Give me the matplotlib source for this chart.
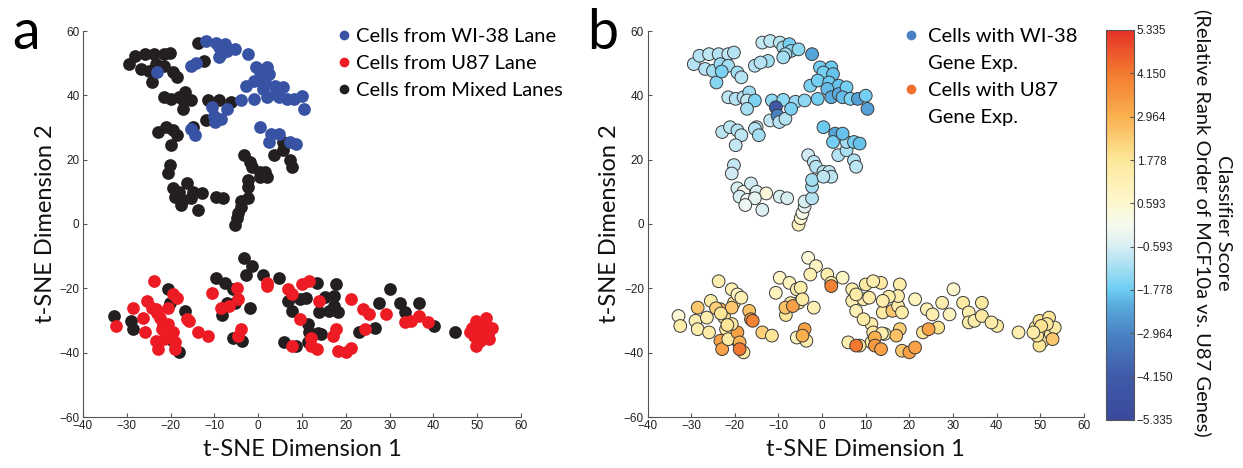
import numpy as np
import matplotlib
matplotlib.use('Agg')
import matplotlib.pyplot as plt
from matplotlib.colors import LinearSegmentedColormap
from matplotlib.lines import Line2D

# t-SNE coordinates, split by lane, with classifier score per cell
wi38_x = [-23.0, -11.9, -9.7, -8.9, -7.5, -7.1, -5.4, -8.4, -8.9, -2.3, -0.5, 2.1, 0.3, 2.5,
          -2.7, -1.0, 1.6, 3.8, 1.2, -1.0, 2.1, 3.8, 5.6, 4.7, 6.5, 8.2, 10.0, 10.4, -4.0,
          -10.6, -10.2, -9.8, -8.4, -7.1, -15.4, -14.5, 0.3, 3.0, 2.5, 4.7, 7.3, 8.6, -15.4, -14.1]
wi38_y = [47.4, 56.9, 56.4, 54.9, 55.9, 53.8, 54.3, 52.8, 51.8, 52.8, 48.7, 48.7, 47.1, 46.6,
          43.0, 44.6, 44.0, 43.0, 42.0, 38.9, 39.4, 40.4, 42.5, 39.4, 38.9, 38.9, 39.9, 35.8, 38.4,
          36.3, 33.7, 31.7, 32.7, 35.8, 29.6, 27.6, 30.1, 28.1, 25.5, 28.1, 25.5, 25.0, 49.2, 50.2]
wi38_score = [-1.6, -0.9, -0.9, -1.2, -1.7, -1.4, -1.4, -1.2, -1.2, -2.3, -1.7, -1.8, -1.7, -1.9,
              -1.6, -1.7, -1.8, -1.9, -2.0, -1.7, -2.2, -2.2, -1.7, -2.0, -1.6, -2.4, -1.7, -2.4, -1.4,
              -4.3, -3.0, -1.0, -1.0, -1.6, -1.0, -1.2, -1.8, -2.3, -1.7, -1.9, -1.7, -1.9, -1.0, -1.0]

u87_x = [-23.7, -28.5, -26.4, -25.5, -25.9, -23.3, -22.4, -22.0, -23.3, -22.9, -21.5, -20.7, -19.4,
         -18.5, -19.4, -18.9, -18.9, -20.7, -32.5, -16.3, -15.9, -13.7, -11.5, -10.6, -8.4, -6.7,
         -4.9, -4.5, -4.0, -4.5, 2.1, 2.1, 6.9, 7.8, 9.5, 10.0, 11.7, 12.1, 12.1, 13.5, 13.9, 17.8,
         17.0, 18.3, 20.0, 21.3, 21.3, 24.0, 25.3, 24.4, 29.2, 33.6, 34.9, 36.6, 38.8, 7.8,
         -24.3, -23.2, -21.7,
         48.9, 49.8, 50.2, 50.6, 49.8, 51.1, 52.0, 52.4, 53.3, 52.8, 49.3, 51.5, 50.2, 48.4]
u87_y = [-17.8, -26.0, -29.1, -23.9, -33.7, -26.5, -29.1, -32.7, -36.3, -38.9, -35.8, -26.0, -21.9,
         -22.9, -33.7, -36.8, -38.9, -31.1, -31.7, -29.6, -30.1, -33.7, -34.7, -21.4, -26.0, -25.5,
         -19.8, -23.4, -32.7, -34.7, -18.3, -19.3, -20.3, -21.9, -29.6, -18.8, -17.8, -35.3, -37.8,
         -38.9, -23.9, -32.7, -34.7, -39.4, -39.9, -38.4, -23.4, -26.5, -28.1, -32.7, -28.1, -30.6,
         -30.1, -28.6, -30.6, -37.8,
         -26.2, -27.8, -31.4,
         -32.2, -30.1, -33.7, -36.3, -37.8, -32.7, -29.1, -34.2, -32.2, -35.8, -34.7, -31.1, -31.7, -33.7]
u87_score = [1.3, 2.5, 1.3, 1.5, 1.5, 3.0, 1.8, 1.6, 3.3, 3.3, 1.6, 2.5, 0.9,
             1.2, 3.3, 2.9, 4.2, 1.6, 1.4, 3.3, 4.0, 2.3, 1.8, 1.0, 2.6, 3.3,
             1.4, 1.5, 3.3, 3.0, 1.5, 4.0, 1.4, 1.5, 1.5, 1.6, 1.3, 3.0, 3.5,
             3.3, 1.3, 2.3, 2.6, 2.5, 3.3, 3.3, 1.0, 1.2, 1.3, 3.3, 1.0, 1.4,
             1.4, 1.6, 1.5, 4.2,
             2.3, 1.8, 1.8,
             1.5, 1.8, 1.8, 1.6, 1.8, 1.6, 1.8, 1.7, 1.6, 2.5, 1.8, 1.7, 1.9, 1.5]

mixed_x = [-29.4, -28.1, -25.9, -23.7, -21.5, -20.2, -26.8, -25.0, -23.3, -21.5, -24.2, -19.4, -18.5,
           -21.5, -19.8, -18.0, -16.7, -17.2, -15.4, -17.2,
           -13.7, -12.4, -11.5, -8.9, -11.9, -15.0, -6.1,
           -22.9, -21.1, -19.4, -18.5, -19.8, -20.2, -20.7,
           -19.4, -18.0, -16.3, -15.0, -12.8, -18.9, -17.2, -15.4, -17.6, -13.7, -9.7, -8.0,
           -5.4, -4.9, -4.5, -4.0, -4.0, -2.3, -2.3, -2.3,
           -3.2, -1.9, -1.4, 0.3, 1.6, 2.1, 0.3, 3.7, 5.6, 5.6, 7.3, 7.8,
           -32.9, -29.0, -28.5, -20.7, -20.2, -19.4, -18.0, -16.7, -9.7, -7.5, -5.8, -5.4, -3.2,
           -1.4, -2.7, 1.2, 4.7, -5.8, -3.6, -1.9, 6.9, 7.8, 9.5, 10.8, 11.3, 11.7, 11.3, 13.5,
           13.9, 16.1, 17.4, 17.8, 17.4, 18.3, 23.1, 26.6, 27.5, 30.1, 32.3, 33.6, 36.6, 40.1,
           45.0, 6.0, 8.6, 14.3, -7.2, -8.3, 15.3, 13.7]
mixed_y = [49.7, 52.3, 52.8, 52.8, 52.8, 53.3, 48.2, 47.6, 49.7, 49.2, 44.0, 47.1, 45.6,
           39.4, 38.9, 39.4, 40.9, 38.4, 38.4, 35.8,
           56.4, 50.7, 38.4, 38.6, 32.2, 30.1, 38.0,
           28.6, 30.1, 29.1, 27.6, 24.5, 18.3, 15.7,
           11.1, 10.0, 12.6, 10.0, 9.5, 8.5, 7.5, 8.0, 5.9, 4.4, 8.5, 8.0,
           -0.2, 1.8, 3.4, 5.4, 7.0, 8.0, 11.6, 13.7,
           21.4, 19.3, 17.8, 16.2, 16.2, 14.7, 14.7, 21.4, 22.9, 25.5, 19.8, 17.8,
           -28.6, -30.1, -32.7, -20.3, -24.5, -36.3, -39.9, -27.0, -16.7, -18.3, -20.3, -24.5, -10.5,
           -13.1, -15.7, -15.7, -16.7, -35.3, -36.3, -26.0, -23.9, -27.0, -23.4, -22.9, -31.1, -33.7,
           -36.8, -18.3, -27.5, -27.0, -25.5, -18.8, -22.4, -27.5, -33.7, -32.2, -24.5, -20.3, -24.5,
           -27.5, -24.5, -31.7, -33.7, -36.8, -37.8, -34.2, -24.6, -28.3, -22.6, -34.0]
mixed_score = [-1.0, -1.0, -0.9, -1.0, -0.9, -1.0, -1.0, -1.2, -1.3, -1.2, -1.5, -1.2, -1.0,
               -0.9, -1.0, -1.0, -1.2, -0.8, -1.6, -1.2,
               -0.8, -1.2, -1.4, -1.4, -0.8, -0.9, -1.3,
               -0.9, -0.9, -1.0, -0.9, -0.8, -0.8, -0.7,
               -0.6, 0.0, -0.7, -0.5, 0.4, -0.6, -0.2, -0.3, -0.2, -0.5, -0.6, -0.6,
               1.0, 0.6, 0.1, -0.3, -0.6, -1.0, -1.2, -1.2,
               -0.7, -0.9, -1.0, -0.9, -0.9, -0.9, -0.9, -1.0, -1.1, -1.2, -1.0, -0.9,
               0.5, 1.2, 1.3, 1.2, 1.8, 2.5, 1.6, 2.6, 0.8, 1.0, 1.3, 1.5, 0.4,
               0.8, 1.2, 1.3, 0.8, 1.0, 1.3, 1.2, 1.2, 1.2, 1.3, 1.5, 1.5, 1.6,
               1.6, 1.6, 1.6, 2.5, 1.5, 1.4, 1.3, 1.5, 1.8, 1.9, 1.3, 0.6, 1.6,
               1.3, 1.6, 1.5, 1.3, 1.3, 1.8, 1.2, 1.5, 1.8, 1.5, 1.3]

cbar_ticks = [-5.335, -4.150, -2.964, -1.778, -0.593, 0.593, 1.778, 2.964, 4.150, 5.335]

# colormap sampled from the colorbar
cmap = LinearSegmentedColormap.from_list('score', [
    (0.0, '#3a4a9c'), (0.111, '#3f5aa8'), (0.222, '#4a84c5'), (0.29, '#58a9dc'),
    (0.333, '#6dcdf2'), (0.444, '#d8eef3'), (0.5, '#f6f9ee'), (0.556, '#fdf8cf'),
    (0.667, '#fde89a'), (0.778, '#fab14f'), (0.889, '#f27b30'), (1.0, '#e63228')])

plt.rcParams['font.family'] = ['Lato', 'DejaVu Sans']
tick_font = 'Liberation Sans'

fig = plt.figure(figsize=(12.43, 4.68), dpi=100)
ax1 = fig.add_axes([83/1243, 51/468, 438/1243, 386/468])
ax2 = fig.add_axes([647.5/1243, 51/468, 436.5/1243, 386/468])
cax = fig.add_axes([1106/1243, 48/468, 28/1243, 390/468])

S = 84
ax1.scatter(mixed_x, mixed_y, s=S, c='#231f20', lw=0)
ax1.scatter(u87_x, u87_y, s=S, c='#ed1c24', lw=0)
ax1.scatter(wi38_x, wi38_y, s=S, c='#3953a4', lw=0)

all_x = mixed_x + u87_x + wi38_x
all_y = mixed_y + u87_y + wi38_y
all_s = mixed_score + u87_score + wi38_score
sc = ax2.scatter(all_x, all_y, s=S, c=all_s, cmap=cmap, vmin=-5.335, vmax=5.335,
                 edgecolors='#3a3a3a', linewidths=0.7)

for ax in (ax1, ax2):
    ax.set_xlim(-40, 60)
    ax.set_ylim(-60, 60)
    ax.set_xticks(np.arange(-40, 61, 10))
    ax.set_yticks(np.arange(-60, 61, 20))
    for s in ('top', 'right'):
        ax.spines[s].set_visible(False)
    for s in ('left', 'bottom'):
        ax.spines[s].set_color('#555555')
        ax.spines[s].set_linewidth(0.8)
    ax.tick_params(direction='in', length=3, width=0.8, color='#555555', pad=2.5,
                   labelsize=8.5, labelcolor='#222222')
    for lab in ax.get_xticklabels() + ax.get_yticklabels():
        lab.set_fontfamily(tick_font)
    ax.set_xlabel('t-SNE Dimension 1', fontsize=17, color='#111111')
    ax.set_ylabel('t-SNE Dimension 2', fontsize=17, color='#111111')
    ax.xaxis.set_label_coords(0.5, -0.058)
    ax.yaxis.set_label_coords(-0.062, 0.5)

h1 = [Line2D([], [], ls='', marker='o', ms=7, mfc=c, mec='none') for c in ('#3953a4', '#ed1c24', '#231f20')]
ax1.legend(h1, ['Cells from WI-38 Lane', 'Cells from U87 Lane', 'Cells from Mixed Lanes'],
           loc='upper left', bbox_to_anchor=(0.56, 1.035), frameon=False, fontsize=14.5,
           handlelength=0.6, handletextpad=0.3, labelspacing=0.5, borderpad=0)

blank = Line2D([], [], ls='', marker='')
h2 = [Line2D([], [], ls='', marker='o', ms=7, mfc='#4a7fc4', mec='none'), blank,
      Line2D([], [], ls='', marker='o', ms=7, mfc='#f07030', mec='none'), blank]
ax2.legend(h2, ['Cells with WI-38', 'Gene Exp.', 'Cells with U87', 'Gene Exp.'],
           loc='upper left', bbox_to_anchor=(0.566, 1.035), frameon=False, fontsize=14.5,
           handlelength=0.6, handletextpad=0.55, labelspacing=0.5, borderpad=0)

cb = fig.colorbar(sc, cax=cax, ticks=cbar_ticks)
cb.ax.set_yticklabels(['%.3f' % t if t >= 0 else '\u2212%.3f' % -t for t in cbar_ticks],
                      fontfamily=tick_font)
cb.ax.tick_params(direction='in', length=3, width=0.8, color='#555555', labelsize=8.5,
                  labelcolor='#222222', pad=2)
cb.outline.set_edgecolor('#555555')
cb.outline.set_linewidth(0.8)
fig.text(1213/1243, 1 - 223/468, 'Classifier Score\n(Relative Rank Order of MCF10a vs. U87 Genes)',
         rotation=270, ha='center', va='center', multialignment='center', fontsize=14.5,
         color='#111111', linespacing=1.25)

fig.text(12/1243, 1 - 49/468, 'a', fontsize=40, va='baseline', ha='left')
fig.text(587/1243, 1 - 49/468, 'b', fontsize=40, va='baseline', ha='left')

fig.savefig('out.png', dpi=100)
